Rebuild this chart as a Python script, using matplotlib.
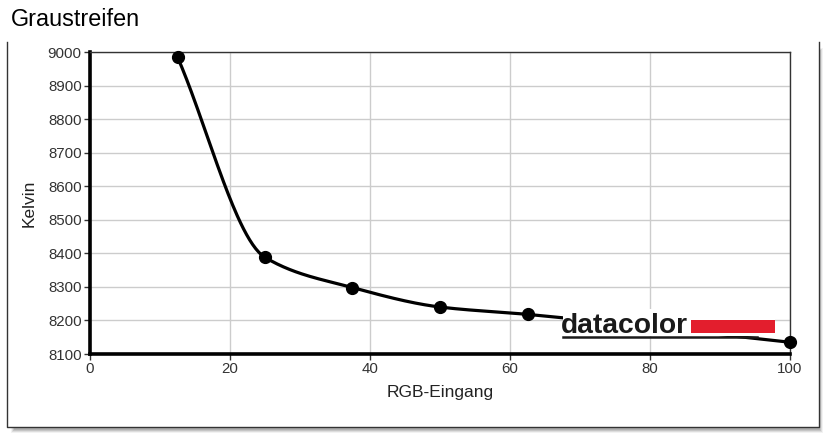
import numpy as np
import matplotlib
matplotlib.use("Agg")
import matplotlib.pyplot as plt
from matplotlib.patches import Rectangle

plt.rcParams['font.family'] = ['Liberation Sans', 'DejaVu Sans']

title = "Graustreifen"
x_label = "RGB-Eingang"
y_label = "Kelvin"
rgb_input = [12.5, 25, 37.5, 50, 62.5, 100]
kelvin = [8985, 8388, 8298, 8240, 8218, 8135]
x_ticks = [0, 20, 40, 60, 80, 100]
y_ticks = [8100, 8200, 8300, 8400, 8500, 8600, 8700, 8800, 8900, 9000]


def monotone_curve(x, y, n=400):
    """Monotone cubic (Fritsch-Carlson) smoothing of the line between data points."""
    x = np.asarray(x, float); y = np.asarray(y, float)
    h = np.diff(x); d = np.diff(y) / h
    m = np.zeros_like(y)
    m[0] = d[0]; m[-1] = d[-1]
    for i in range(1, len(x) - 1):
        if d[i - 1] * d[i] <= 0:
            m[i] = 0
        else:
            w1 = 2 * h[i] + h[i - 1]; w2 = h[i] + 2 * h[i - 1]
            m[i] = (w1 + w2) / (w1 / d[i - 1] + w2 / d[i])
    xs = np.linspace(x[0], x[-1], n); ys = np.empty_like(xs)
    for k, xv in enumerate(xs):
        i = min(np.searchsorted(x, xv, side='right') - 1, len(x) - 2)
        t = (xv - x[i]) / h[i]
        h00 = 2 * t**3 - 3 * t**2 + 1; h10 = t**3 - 2 * t**2 + t
        h01 = -2 * t**3 + 3 * t**2; h11 = t**3 - t**2
        ys[k] = h00 * y[i] + h10 * h[i] * m[i] + h01 * y[i + 1] + h11 * h[i] * m[i + 1]
    return xs, ys


W, H = 832, 445
fig = plt.figure(figsize=(W / 100, H / 100), dpi=100)
fig.patch.set_facecolor('white')

px = lambda v: v / W
py = lambda v: 1 - v / H

# background frame axes
bg = fig.add_axes([0, 0, 1, 1], zorder=-5)
bg.set_xlim(0, W); bg.set_ylim(H, 0); bg.axis('off')
for k, a in enumerate([0.10, 0.18, 0.25, 0.30]):
    bg.add_patch(Rectangle((11 + k, 48 + k), 812 - 2 * k, 385 - 2 * k,
                           facecolor='#808080', alpha=a, edgecolor='none'))
bg.add_patch(Rectangle((7, 42), 812, 385, facecolor='white', edgecolor='none'))
bg.plot([7, 7, 819, 819], [42, 427, 427, 42], color='#333333', linewidth=1.0)
bg.text(11, 20, title, fontsize=16.8, va='center', ha='left', color='black')

ax = fig.add_axes([px(90), py(354), px(790) - px(90), py(52) - py(354)], zorder=1)
ax.set_facecolor('white')
ax.set_xlim(0, 100)
ax.set_ylim(8100, 9000)
ax.set_xticks(x_ticks)
ax.set_yticks(y_ticks)
ax.grid(True, color='#cccccc', linewidth=1.0)
ax.set_axisbelow(True)
for s in ['left', 'bottom']:
    ax.spines[s].set_linewidth(2.6)
    ax.spines[s].set_color('black')
for s in ['top', 'right']:
    ax.spines[s].set_linewidth(1.0)
    ax.spines[s].set_color('#333333')
ax.tick_params(axis='both', labelsize=10.8, colors='#333333', length=4, width=1, pad=2)
ax.set_xlabel(x_label, fontsize=12.5, color='#222222', labelpad=6)
ax.set_ylabel(y_label, fontsize=12.5, color='#222222', labelpad=8)

xs, ys = monotone_curve(rgb_input, kelvin)
ax.plot(xs, ys, color='black', linewidth=2.3, clip_on=False, zorder=3)
ax.plot(rgb_input, kelvin, 'o', color='black', markersize=8.5, clip_on=False, zorder=5)

# datacolor logo (pixel coordinates)
logo = fig.add_axes([0, 0, 1, 1], zorder=2)
logo.set_xlim(0, W); logo.set_ylim(H, 0); logo.axis('off')
logo.add_patch(Rectangle((563, 309), 212, 27, facecolor='white', edgecolor='none'))
logo.text(561, 333, "datacolor", fontsize=20.3, fontweight='bold', color='#1a1a1a',
          va='baseline', ha='left')
logo.add_patch(Rectangle((691, 320), 84, 13, facecolor='#e31e2d', edgecolor='none'))
logo.plot([563, 757], [336.5, 336.5], color='#1a1a1a', linewidth=1.8)

fig.savefig("out.png", dpi=100, facecolor='white')
